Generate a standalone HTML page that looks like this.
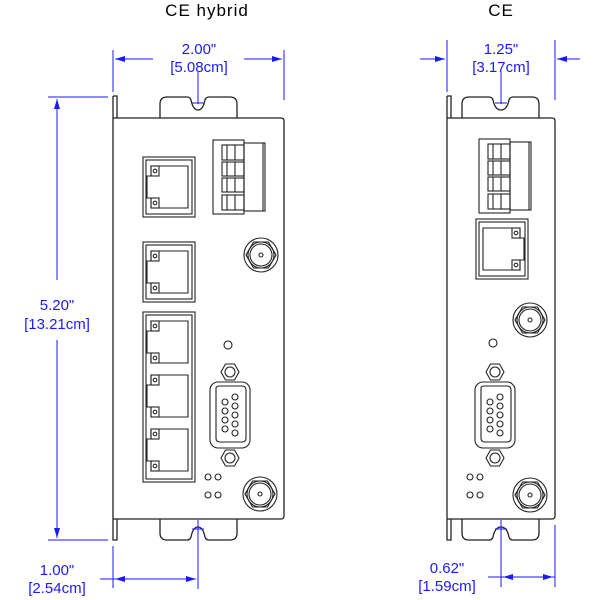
<!DOCTYPE html>
<html><head><meta charset="utf-8"><style>
html,body{margin:0;padding:0;background:#fff;width:600px;height:600px;overflow:hidden}
svg{display:block}
.t{font-family:"Liberation Sans",sans-serif;font-size:15px;fill:#1a1aff;text-anchor:middle}
.h{font-family:"Liberation Sans",sans-serif;font-size:17px;fill:#000;text-anchor:middle;letter-spacing:1px}
</style></head><body>
<svg width="600" height="600" viewBox="0 0 600 600" xmlns="http://www.w3.org/2000/svg">
<defs>
<marker id="a" viewBox="0 0 10 6" refX="10" refY="3" markerWidth="10" markerHeight="6" orient="auto-start-reverse" markerUnits="userSpaceOnUse"><path d="M0,0 L10,3 L0,6 z" fill="#1a1aff"/></marker>
<g id="win" fill="none" stroke="#222" stroke-width="1.1">
<path d="M8,9 H45 V51 H8 V41 H4 V19 H8 Z"/>
<rect x="8" y="9" width="8" height="10"/><rect x="8" y="41" width="8" height="10"/>
<circle cx="12" cy="14" r="1.8"/><circle cx="12" cy="46" r="1.8"/>
</g>
<g id="rjL">
<rect x="0" y="0" width="52" height="60" fill="none" stroke="#222" stroke-width="1.1"/>
<rect x="3" y="3" width="46" height="54" fill="none" stroke="#222" stroke-width="1.1"/>
<use href="#win"/>
</g>
<g id="tb" fill="none" stroke="#222" stroke-width="1.1">
<rect x="0" y="0" width="31" height="74"/>
<rect x="31" y="3" width="21" height="68"/>
<line x1="50" y1="3" x2="50" y2="71"/>
<rect x="9" y="5" width="22" height="15"/><line x1="14" y1="5" x2="14" y2="20"/><line x1="22" y1="5" x2="22" y2="20"/>
<rect x="9" y="22" width="22" height="14"/><line x1="14" y1="22" x2="14" y2="36"/><line x1="22" y1="22" x2="22" y2="36"/>
<rect x="9" y="38" width="22" height="14"/><line x1="14" y1="38" x2="14" y2="52"/><line x1="22" y1="38" x2="22" y2="52"/>
<rect x="9" y="55" width="22" height="15"/><line x1="14" y1="55" x2="14" y2="70"/><line x1="22" y1="55" x2="22" y2="70"/>
</g>
<g id="sma" fill="none" stroke="#222" stroke-width="1.1">
<circle r="17"/><polygon points="15,0 7.5,13 -7.5,13 -15,0 -7.5,-13 7.5,-13"/><circle r="13"/><circle r="11"/><circle r="2" />
</g>
<g id="nut" fill="none" stroke="#222" stroke-width="1.1"><polygon points="9,0 4.5,8 -4.5,8 -9,0 -4.5,-8 4.5,-8"/><circle r="5"/></g>
<g id="db9" fill="none" stroke="#222" stroke-width="1.1">
<use href="#nut" y="-42"/><use href="#nut" y="44"/>
<rect x="-20" y="-32" width="40" height="66" rx="8"/>
<path d="M-14,-26 Q-14,-28 -10,-28 H12 Q16,-28 16,-24 V24 Q16,28 12,28 H-10 Q-14,28 -14,24 Z"/>
<circle cx="-5" cy="-12" r="3"/><circle cx="-5" cy="-3" r="3"/><circle cx="-5" cy="6" r="3"/><circle cx="-5" cy="15" r="3"/>
<circle cx="5" cy="-17" r="3"/><circle cx="5" cy="-8" r="3"/><circle cx="5" cy="1" r="3"/><circle cx="5" cy="10" r="3"/><circle cx="5" cy="19" r="3"/>
</g>
<g id="dots" fill="none" stroke="#222" stroke-width="1.1"><circle r="3"/><circle cx="10" r="3"/><circle cy="18" r="3"/><circle cx="10" cy="18" r="3"/></g>
</defs>

<text class="h" x="207" y="16">CE hybrid</text>
<text class="h" x="501" y="16">CE</text>

<!-- LEFT device -->
<g fill="none" stroke="#222" stroke-width="1.3">
<path d="M113,96 H117 V118"/><path d="M113,96 V540 H117 V519"/>
<path d="M160,118 V104 Q160,97 167,97 H187 Q190,97 191,100 Q193,110 198,110 Q203,110 205,100 Q206,97 209,97 H230 Q237,97 237,104 V118"/>
<path d="M160,519 V533 Q160,540 167,540 H187 Q190,540 191,537 Q193,527 198,527 Q203,527 205,537 Q206,540 209,540 H230 Q237,540 237,533 V519"/>
<path d="M113,118 H281 Q284,118 284,121 V516 Q284,519 281,519 H113"/>
</g>
<use href="#rjL" x="143" y="157"/>
<use href="#rjL" x="143" y="242"/>
<rect x="143" y="312" width="52" height="170" fill="none" stroke="#222" stroke-width="1.1"/>
<rect x="146" y="315" width="46" height="164" fill="none" stroke="#222" stroke-width="1.1"/>
<use href="#win" x="143" y="312"/>
<use href="#win" x="143" y="366"/>
<use href="#win" x="143" y="420"/>
<use href="#tb" x="213" y="140"/>
<use href="#sma" x="261" y="255"/>
<circle cx="228" cy="345" r="4" fill="none" stroke="#222" stroke-width="1.1"/>
<use href="#db9" x="230" y="414"/>
<use href="#dots" x="208" y="477"/>
<use href="#sma" x="260" y="494"/>

<!-- RIGHT device -->
<g fill="none" stroke="#222" stroke-width="1.3">
<path d="M447,96 H451 V118"/><path d="M447,96 V540 H451 V519"/>
<path d="M462,118 V104 Q462,97 469,97 H489 Q492,97 493,100 Q495,110 501,110 Q507,110 509,100 Q510,97 513,97 H532 Q539,97 539,104 V118"/>
<path d="M462,519 V533 Q462,540 469,540 H489 Q492,540 493,537 Q495,527 501,527 Q507,527 509,537 Q510,540 513,540 H532 Q539,540 539,533 V519"/>
<path d="M447,118 H552 Q555,118 555,121 V516 Q555,519 552,519 H447"/>
</g>
<use href="#tb" x="479" y="139"/>
<g transform="translate(528,219) scale(-1,1)"><use href="#rjL"/></g>
<use href="#sma" x="530" y="320"/>
<circle cx="493" cy="343" r="4" fill="none" stroke="#222" stroke-width="1.1"/>
<use href="#db9" x="495" y="414"/>
<use href="#dots" x="470" y="477"/>
<use href="#sma" x="530" y="495"/>

<!-- dimensions -->
<g stroke="#1a1aff" stroke-width="1" fill="none">
<line x1="113" y1="50" x2="113" y2="92"/><line x1="284" y1="50" x2="284" y2="100"/>
<line x1="153" y1="59" x2="115" y2="59" marker-end="url(#a)"/><line x1="244" y1="59" x2="282" y2="59" marker-end="url(#a)"/>
<line x1="48" y1="97" x2="108" y2="97"/><line x1="48" y1="540" x2="108" y2="540"/>
<line x1="57" y1="280" x2="57" y2="99" marker-end="url(#a)"/><line x1="57" y1="340" x2="57" y2="538" marker-end="url(#a)"/>
<line x1="113" y1="546" x2="113" y2="588"/><line x1="198" y1="72" x2="198" y2="104"/><line x1="192" y1="103" x2="204" y2="103"/>
<line x1="198" y1="520" x2="198" y2="589"/><line x1="192" y1="529" x2="204" y2="529"/>
<line x1="100" y1="579" x2="196" y2="579"/>
<line x1="150" y1="579" x2="115" y2="579" marker-end="url(#a)"/><line x1="160" y1="579" x2="196" y2="579" marker-end="url(#a)"/>

<line x1="447" y1="40" x2="447" y2="92"/><line x1="555" y1="40" x2="555" y2="100"/>
<line x1="420" y1="59" x2="445" y2="59" marker-end="url(#a)"/><line x1="580" y1="59" x2="557" y2="59" marker-end="url(#a)"/>
<line x1="501" y1="72" x2="501" y2="104"/><line x1="495" y1="103" x2="507" y2="103"/>
<line x1="501" y1="520" x2="501" y2="587"/><line x1="495" y1="529" x2="507" y2="529"/><line x1="555" y1="525" x2="555" y2="587"/>
<line x1="488" y1="577" x2="555" y2="577"/>
<line x1="525" y1="577" x2="503" y2="577" marker-end="url(#a)"/><line x1="530" y1="577" x2="553" y2="577" marker-end="url(#a)"/>
</g>
<g class="t">
<text class="t" x="199" y="54">2.00"</text><text class="t" x="199" y="72">[5.08cm]</text>
<text class="t" x="57" y="310">5.20"</text><text class="t" x="57" y="329">[13.21cm]</text>
<text class="t" x="57" y="575">1.00"</text><text class="t" x="57" y="593">[2.54cm]</text>
<text class="t" x="501" y="54">1.25"</text><text class="t" x="501" y="72">[3.17cm]</text>
<text class="t" x="447" y="573">0.62"</text><text class="t" x="447" y="591">[1.59cm]</text>
</g>
</svg>
</body></html>
